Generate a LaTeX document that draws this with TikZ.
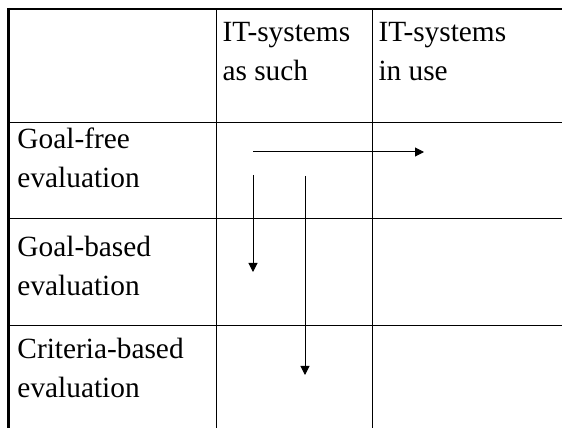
\documentclass[tikz,border=0pt]{standalone}
\usepackage{fontspec}
\setmainfont{Liberation Serif}
\usetikzlibrary{arrows.meta}
\tikzset{every picture/.style={line width=0.75pt}}
\tikzset{
  celltext/.style={anchor=base west,inner sep=0pt,align=left,font=\fontsize{22}{29.3}\selectfont},
  flow/.style={-{Triangle[length=6.75pt,width=6.75pt]},line width=0.75pt}
}

\begin{document}
\begin{tikzpicture}[x=0.75pt,y=0.75pt,yscale=-1,xscale=1]
        \useasboundingbox (0,0) rectangle (562,428);
        % grid
        \draw [line width=1.5pt]  (8,9) -- (562,9) ;
        \draw [line width=2.25pt]  (8,8) -- (8,428) ;
        \draw    (8,123) -- (562,123) ;
        \draw    (8,219) -- (562,219) ;
        \draw    (8,326) -- (562,326) ;
        \draw    (216,9) -- (216,428) ;
        \draw    (372,9) -- (372,428) ;

        % headings (base = last line)
        \node [celltext] (such) at (222,81) {IT-systems\\as such};
        \node [celltext] (use) at (378,81) {IT-systems\\in use};
        \node [celltext] (free) at (17,188) {Goal-free\\evaluation};
        \node [celltext] (goal) at (17,296) {Goal-based\\evaluation};
        \node [celltext] (crit) at (17,398) {Criteria-based\\evaluation};

        % arrows
        \coordinate (h0) at (253,152);
        \coordinate (h1) at (424,152);
        \coordinate (a0) at (253,175);
        \coordinate (a1) at (253,272);
        \coordinate (b0) at (305,176);
        \coordinate (b1) at (305,375);
        \draw [flow] (h0) -- (h1) ;
        \draw [flow] (a0) -- (a1) ;
        \draw [flow] (b0) -- (b1) ;
    \end{tikzpicture}
\end{document}
